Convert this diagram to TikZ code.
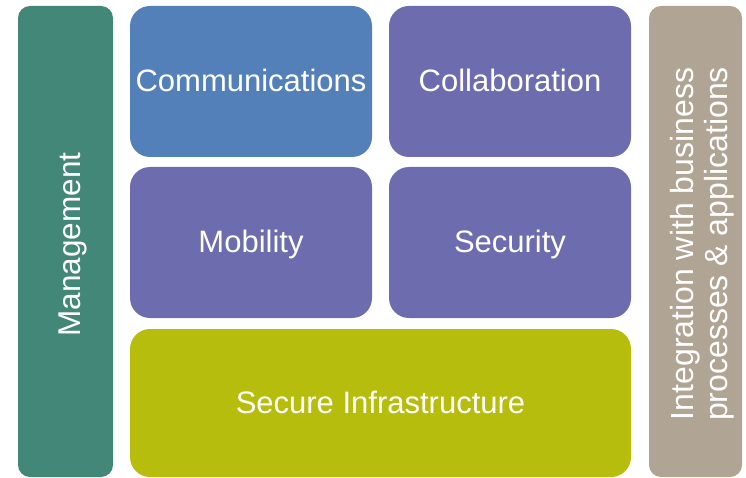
\documentclass[tikz,border=0pt]{standalone}
\usepackage{fontspec}
\setmainfont{Liberation Sans}
\definecolor{custcol_teal}{RGB}{67, 135, 121}
\definecolor{custcol_blue}{RGB}{84, 128, 186}
\definecolor{custcol_purple}{RGB}{108, 108, 175}
\definecolor{custcol_olive}{RGB}{183, 189, 12}
\definecolor{custcol_tan}{RGB}{176, 164, 148}
\tikzset{
  blockbox/.style={rounded corners=20pt, inner sep=0, outer sep=0, text=white,
    font=\fontsize{31pt}{37pt}\selectfont, text height=24pt, text depth=4pt},
  sidebox/.style={rounded corners=12pt, inner sep=0, outer sep=0, text=white, rotate=90}
}
\begin{document}
\begin{tikzpicture}[x=1pt,y=-1pt]
\useasboundingbox (0,0) rectangle (746,478);
% side bars
\node[sidebox, fill=custcol_teal, minimum width=471pt, minimum height=95pt,
  font=\fontsize{31.5pt}{37pt}\selectfont, text height=32pt, text depth=2pt] (mgmt) at (65.5,241.5) {Management\kern6pt};
\node[sidebox, fill=custcol_tan, minimum width=471pt, minimum height=93pt, align=center,
  font=\fontsize{32pt}{34.5pt}\selectfont, text height=66pt, text depth=2pt] (integ) at (695.5,241.5) {Integration with business\kern5pt\\processes \& applications\kern5pt};
% middle blocks
\node[blockbox, fill=custcol_blue, minimum width=242pt, minimum height=151pt] (comm) at (251,81.5) {Communications};
\node[blockbox, fill=custcol_purple, minimum width=242pt, minimum height=151pt] (collab) at (510,81.5) {Collaboration};
\node[blockbox, fill=custcol_purple, minimum width=242pt, minimum height=151pt] (mob) at (251,242.5) {Mobility};
\node[blockbox, fill=custcol_purple, minimum width=242pt, minimum height=151pt] (sec) at (510,242.5) {Security};
\node[blockbox, fill=custcol_olive, minimum width=501pt, minimum height=148pt] (infra) at (380.5,403) {Secure Infrastructure};
\end{tikzpicture}
\end{document}
